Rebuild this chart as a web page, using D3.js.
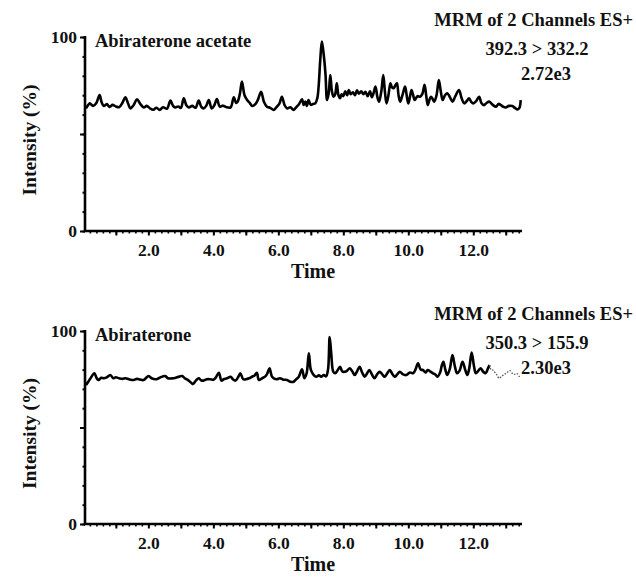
<!DOCTYPE html>
<html>
<head>
<meta charset="utf-8">
<script src="https://cdn.jsdelivr.net/npm/d3@7"></script>
<style>
  html, body { margin: 0; padding: 0; background: #fff; }
  svg text { font-family: "Liberation Serif", "Times New Roman", serif; font-weight: bold; fill: #111; }
</style>
</head>
<body>
<svg id="chart" width="636" height="577"></svg>
<script>
// ---------- DATA ----------
const xTickLabels = [2, 4, 6, 8, 10, 12];
const yTickLabels = [0, 100];
const xDomain = [0.05, 13.5];

// Panel 1: Abiraterone acetate (392.3 > 332.2)
const timeA = [0.08,0.15,0.2,0.3,0.4,0.5,0.56,0.63,0.72,0.8,0.9,1.0,1.1,1.2,1.29,1.37,1.45,1.55,1.65,1.75,1.86,1.95,2.05,2.15,2.25,2.35,2.45,2.57,2.68,2.76,2.83,2.92,3.0,3.09,3.17,3.25,3.35,3.45,3.55,3.63,3.7,3.78,3.86,3.95,4.03,4.11,4.2,4.3,4.4,4.53,4.63,4.7,4.75,4.82,4.88,4.96,5.04,5.12,5.2,5.3,5.38,5.47,5.56,5.65,5.75,5.86,5.95,6.03,6.11,6.19,6.27,6.37,6.47,6.56,6.64,6.73,6.78,6.83,6.88,6.93,7.0,7.07,7.14,7.2,7.24,7.29,7.34,7.39,7.45,7.5,7.55,7.6,7.65,7.7,7.75,7.8,7.85,7.9,7.95,8.0,8.06,8.12,8.17,8.23,8.3,8.36,8.42,8.48,8.55,8.62,8.68,8.75,8.82,8.88,8.93,8.99,9.05,9.1,9.17,9.23,9.28,9.33,9.39,9.45,9.5,9.55,9.6,9.65,9.7,9.75,9.82,9.9,9.95,10.0,10.05,10.1,10.15,10.2,10.28,10.36,10.43,10.5,10.55,10.6,10.65,10.7,10.75,10.8,10.87,10.94,11.0,11.06,11.13,11.2,11.28,11.36,11.45,11.56,11.64,11.72,11.8,11.87,11.94,12.0,12.09,12.18,12.25,12.33,12.41,12.49,12.6,12.7,12.78,12.85,12.93,13.0,13.1,13.2,13.28,13.36,13.42,13.46];
const intensityA = [63.2,65.0,65.8,64.5,66.0,70.1,66.5,64.4,65.5,64.0,65.0,64.2,63.8,66.0,68.9,66.0,63.2,65.0,67.9,65.5,63.7,64.5,63.2,62.5,63.5,62.4,63.8,63.0,67.2,64.5,63.7,64.2,63.5,68.4,64.8,63.7,64.5,63.5,67.2,64.0,63.2,64.5,67.5,63.2,64.8,68.0,64.1,64.6,63.8,63.7,68.9,66.0,66.7,71.0,77.0,70.0,67.5,66.0,64.4,65.5,68.0,71.8,66.5,64.1,63.5,62.4,64.0,65.5,69.2,65.0,63.2,63.8,62.4,64.0,65.5,67.9,65.0,66.7,64.5,67.5,65.0,65.5,65.8,68.5,74.4,88.0,97.6,92.0,81.3,67.5,71.0,80.4,72.0,69.2,70.5,76.1,70.0,68.4,70.5,69.5,72.0,70.0,72.7,70.5,71.5,70.0,72.5,70.8,72.0,70.5,71.8,69.5,72.0,69.0,71.0,74.4,69.0,66.7,72.0,80.4,72.0,65.8,70.0,76.1,74.0,73.6,75.0,76.1,70.0,66.7,70.0,74.4,70.0,65.8,69.0,72.7,70.0,67.5,69.5,69.2,70.5,75.3,70.0,64.9,67.5,69.2,68.0,66.7,70.0,77.8,72.0,67.5,70.0,71.0,69.0,66.7,69.5,72.7,68.5,65.8,67.0,68.4,66.5,65.8,67.0,69.2,66.0,64.9,66.0,66.7,65.0,64.1,65.5,64.9,64.0,63.7,64.5,64.4,63.5,62.7,63.5,67.5];

// Panel 2: Abiraterone (350.3 > 155.9) — solid part
const timeB = [0.08,0.15,0.22,0.34,0.41,0.47,0.55,0.63,0.72,0.83,0.92,1.0,1.1,1.2,1.3,1.4,1.55,1.65,1.75,1.85,2.01,2.1,2.25,2.35,2.52,2.6,2.75,2.88,3.04,3.12,3.2,3.3,3.37,3.45,3.55,3.62,3.7,3.8,3.91,4.0,4.08,4.17,4.25,4.32,4.42,4.53,4.6,4.68,4.76,4.83,4.92,5.0,5.1,5.19,5.27,5.34,5.4,5.5,5.6,5.66,5.73,5.8,5.86,5.95,6.05,6.15,6.27,6.37,6.47,6.55,6.63,6.73,6.8,6.87,6.94,7.0,7.09,7.17,7.25,7.32,7.4,7.47,7.53,7.58,7.63,7.69,7.75,7.82,7.9,7.97,8.05,8.12,8.2,8.28,8.35,8.42,8.5,8.58,8.66,8.73,8.8,8.88,8.96,9.04,9.12,9.2,9.27,9.35,9.43,9.5,9.58,9.66,9.74,9.84,9.94,10.05,10.15,10.22,10.3,10.38,10.45,10.53,10.6,10.68,10.76,10.83,10.9,10.98,11.03,11.08,11.14,11.2,11.28,11.36,11.43,11.5,11.58,11.67,11.75,11.82,11.88,11.95,12.02,12.08,12.16,12.23,12.3,12.38,12.45,12.5];
const intensityB = [72.0,73.7,75.5,78.1,75.5,74.6,75.8,75.5,76.0,77.2,75.5,76.0,75.5,75.2,75.5,75.0,74.6,75.2,74.8,74.6,76.7,75.5,75.0,75.8,76.7,75.5,75.5,76.0,76.7,75.5,74.8,73.5,72.5,74.0,75.5,74.5,74.3,75.0,75.0,74.8,76.0,78.4,74.3,75.0,75.5,76.3,75.0,74.3,76.0,78.1,75.0,75.0,75.5,76.3,77.0,78.4,74.6,75.5,76.5,78.0,80.7,76.5,75.5,75.0,75.5,74.8,74.6,73.7,73.7,75.0,76.3,80.2,75.5,78.0,88.4,80.0,77.2,76.3,77.0,76.3,77.2,76.5,80.0,96.9,88.0,79.0,78.1,79.5,81.5,79.0,78.9,79.5,80.7,79.0,77.2,79.0,81.5,78.5,76.3,78.0,79.8,77.5,75.5,77.5,78.9,77.5,76.3,78.0,79.8,78.0,76.3,77.5,78.9,77.5,77.2,78.5,78.1,80.0,83.3,80.0,79.8,78.5,79.8,79.0,78.1,77.5,76.3,78.5,82.0,84.1,80.0,77.2,80.5,87.6,82.0,78.1,79.5,84.1,80.0,77.2,81.0,88.8,82.0,78.1,79.5,80.7,79.0,78.1,80.5,82.4];
// Panel 2: faint broken tail
const timeBTail = [12.5,12.55,12.6,12.67,12.73,12.8,12.87,12.93,13.0,13.07,13.13,13.2,13.27,13.34,13.42,13.46];
const intensityBTail = [82.4,80.0,79.8,78.5,77.2,75.5,76.5,77.2,78.0,78.9,79.5,78.1,77.5,78.0,76.3,75.5];

const panels = [
  { name: "Abiraterone acetate", line1: "MRM of 2 Channels ES+", line2: "392.3 > 332.2", line3: "2.72e3",
    time: timeA, vals: intensityA, tailT: null, tailV: null,
    top: 37, bottom: 231 },
  { name: "Abiraterone", line1: "MRM of 2 Channels ES+", line2: "350.3 > 155.9", line3: "2.30e3",
    time: timeB, vals: intensityB, tailT: timeBTail, tailV: intensityBTail,
    top: 331, bottom: 524 }
];

// ---------- DRAW ----------
const svg = d3.select("#chart");
const x = d3.scaleLinear().domain(xDomain).range([85, 522]);

panels.forEach((p, pi) => {
  const y = d3.scaleLinear().domain([0, 100]).range([p.bottom, p.top]);
  const g = svg.append("g");

  // data line
  const line = d3.line().x(d => x(d[0])).y(d => y(d[1])).curve(d3.curveCatmullRom.alpha(0.5));
  const pts = p.time.map((t, i) => [t, p.vals[i]]);
  g.append("path").datum(pts).attr("d", line)
    .attr("fill", "none").attr("stroke", "#000").attr("stroke-width", 2.6).attr("stroke-linejoin", "round");
  if (p.tailT) {
    const tpts = p.tailT.map((t, i) => [t, p.tailV[i]]);
    g.append("path").datum(tpts).attr("d", line)
      .attr("fill", "none").attr("stroke", "#555").attr("stroke-width", 1.3)
      .attr("stroke-dasharray", "1.5,1.5");
  }

  // y axis
  const yMinor = d3.range(0, 101, 10);
  g.append("g").attr("transform", `translate(${x.range()[0]},0)`)
    .call(d3.axisLeft(y).tickValues(yMinor).tickSize(2.5).tickFormat(""))
    .call(a => a.select(".domain").remove())
    .call(a => a.selectAll("line").attr("stroke", "#000").attr("stroke-width", 2));
  g.append("g").attr("transform", `translate(${x.range()[0]},0)`)
    .call(d3.axisLeft(y).tickValues([0, 50, 100]).tickSize(5).tickPadding(3).tickFormat(d => yTickLabels.includes(d) ? d : ""))
    .call(a => a.select(".domain").remove())
    .call(a => a.selectAll("line").attr("stroke", "#000").attr("stroke-width", 2))
    .call(a => a.selectAll("text").attr("font-size", 17.5).attr("font-family", "Liberation Serif").attr("font-weight", "bold").attr("fill", "#111").attr("dy", "0.32em"));

  // x axis
  const xMinor = d3.range(0.2, 13.41, 0.2).map(v => +v.toFixed(1));
  const xMajor = d3.range(1, 14, 1);
  g.append("g").attr("transform", `translate(0,${p.bottom})`)
    .call(d3.axisBottom(x).tickValues(xMinor).tickSize(2.5).tickFormat(""))
    .call(a => a.select(".domain").remove())
    .call(a => a.selectAll("line").attr("stroke", "#000").attr("stroke-width", 1.6));
  g.append("g").attr("transform", `translate(0,${p.bottom})`)
    .call(d3.axisBottom(x).tickValues(xMajor).tickSize(4.5).tickPadding(8)
      .tickFormat(d => xTickLabels.includes(d) ? d3.format(".1f")(d) : ""))
    .call(a => a.select(".domain").remove())
    .call(a => a.selectAll("line").attr("stroke", "#000").attr("stroke-width", 2))
    .call(a => a.selectAll("text").attr("font-size", 17.5).attr("font-family", "Liberation Serif").attr("font-weight", "bold").attr("fill", "#111"));

  // axis lines
  g.append("line").attr("x1", x.range()[0]).attr("x2", x.range()[0]).attr("y1", p.top - 1).attr("y2", p.bottom + 1)
    .attr("stroke", "#000").attr("stroke-width", 2.6);
  g.append("line").attr("x1", x.range()[0] - 1).attr("x2", x.range()[1]).attr("y1", p.bottom).attr("y2", p.bottom)
    .attr("stroke", "#000").attr("stroke-width", 2.6);

  // labels
  g.append("text").attr("x", 95).attr("y", p.top + 10).attr("font-size", 18.5).text(p.name);
  g.append("text").attr("x", 633).attr("y", p.top - 11).attr("font-size", 18.5).attr("text-anchor", "end").text(p.line1);
  g.append("text").attr("x", 537).attr("y", p.top + 18).attr("font-size", 18.5).attr("text-anchor", "middle").text(p.line2);
  g.append("text").attr("x", 546).attr("y", p.top + 43).attr("font-size", 18.5).attr("text-anchor", "middle").text(p.line3);

  g.append("text").attr("transform", `translate(36,${(p.top + p.bottom) / 2 + 6}) rotate(-90)`)
    .attr("font-size", 19.5).attr("text-anchor", "middle").text("Intensity (%)");
  g.append("text").attr("x", 313).attr("y", p.bottom + 47).attr("font-size", 20).attr("text-anchor", "middle").text("Time");
});
</script>
</body>
</html>
